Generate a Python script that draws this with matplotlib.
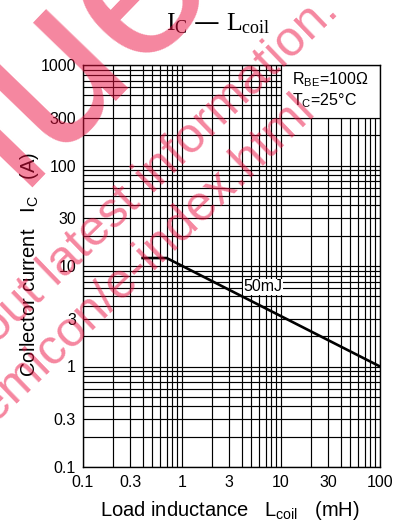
import matplotlib
matplotlib.use('Agg')
import matplotlib.pyplot as plt
from matplotlib.ticker import FixedLocator, FixedFormatter, LogLocator, NullFormatter
from matplotlib.patches import Rectangle

# ---- data ----
inductance_mH = [0.4, 0.7, 100.0]
current_A = [12.0, 12.0, 1.0]
x_ticks = [0.1, 0.3, 1, 3, 10, 30, 100]
x_tick_labels = ['0.1', '0.3', '1', '3', '10', '30', '100']
y_ticks = [0.1, 0.3, 1, 3, 10, 30, 100, 300, 1000]
y_tick_labels = ['0.1', '0.3', '1', '3', '10', '30', '100', '300', '1000']
curve_label = '50mJ'

plt.rcParams['font.family'] = ['Liberation Sans', 'DejaVu Sans']
plt.rcParams['mathtext.default'] = 'regular'

W, H = 395, 527
fig = plt.figure(figsize=(W / 100, H / 100), dpi=100)
ax = fig.add_axes([83 / W, 60 / H, 297 / W, 402 / H])
ax.set_xscale('log')
ax.set_yscale('log')
ax.set_xlim(0.1, 100)
ax.set_ylim(0.1, 1000)

for axis, ticks, labels in ((ax.xaxis, x_ticks, x_tick_labels), (ax.yaxis, y_ticks, y_tick_labels)):
    axis.set_major_locator(FixedLocator(ticks))
    axis.set_major_formatter(FixedFormatter(labels))
    axis.set_minor_locator(LogLocator(base=10, subs=range(1, 10), numticks=30))
    axis.set_minor_formatter(NullFormatter())

ax.tick_params(which='both', length=0, labelsize=11.5, colors='black')
ax.tick_params(axis='x', pad=6)
ax.tick_params(axis='y', pad=5)
ax.set_axisbelow(True)
ax.grid(which='both', color='black', lw=0.85)
for s in ax.spines.values():
    s.set_linewidth(1.0)
    s.set_zorder(5)

ax.plot(inductance_mH, current_A, color='black', lw=1.9, zorder=3)
ax.text(6.6, 6.2, curve_label, ha='center', va='center', fontsize=11.5,
        bbox=dict(facecolor='white', edgecolor='none', pad=0.5), zorder=4)

# condition box
ax.add_patch(Rectangle((10, 300), 90, 700, facecolor='white', edgecolor='black', lw=0.85, zorder=2))
ax.text(13, 710, 'R$_{BE}$=100Ω', ha='left', va='center', fontsize=11.5, zorder=4)
ax.text(13, 440, 'T$_C$=25°C', ha='left', va='center', fontsize=11.5, zorder=4)

# title and axis labels
fig.text(218 / W, 1 - 24 / H, 'I$_C$ — L$_{coil}$', ha='center', va='center',
         fontsize=18.5, family='Liberation Serif')
fig.text(230 / W, 1 - 510 / H, 'Load inductance   L$_{coil}$   (mH)', ha='center', va='center', fontsize=14.5)
fig.text(30 / W, 1 - 264 / H, 'Collector current   I$_C$   (A)', ha='center', va='center',
         fontsize=14.5, rotation=90)

# watermark
wm = (0.92, 0.06, 0.25)
fig.text(300 / W, 1 + 108 / H, 'Discontinued', rotation=46, rotation_mode='anchor',
         ha='right', va='baseline', fontsize=155, color=wm, alpha=0.5, zorder=10)
fig.text(340 / W, 1 - 13 / H, 'about latest information.', rotation=44, rotation_mode='anchor',
         ha='right', va='baseline', fontsize=36, color=wm, alpha=0.5, zorder=10)
fig.text(317 / W, 1 - 114 / H, '/semicon/e-index.html', rotation=44, rotation_mode='anchor',
         ha='right', va='baseline', fontsize=36, color=wm, alpha=0.5, zorder=10)

fig.savefig('out.png', dpi=100)
